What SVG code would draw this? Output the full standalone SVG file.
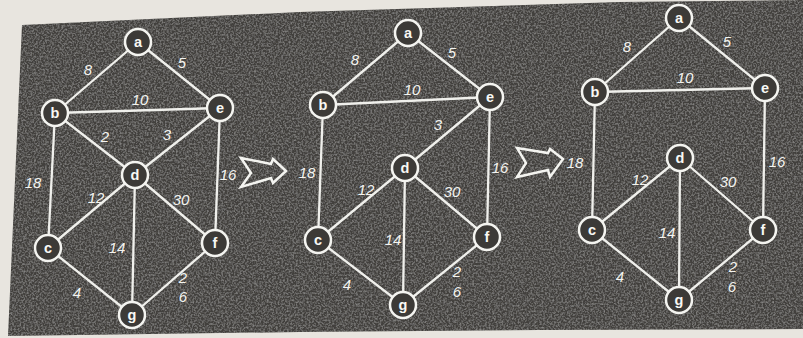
<svg xmlns="http://www.w3.org/2000/svg" width="803" height="338" viewBox="0 0 803 338">
<defs>
<filter id="noise" x="0" y="0" width="100%" height="100%">
<feTurbulence type="fractalNoise" baseFrequency="0.55" numOctaves="2" seed="3" result="t"/>
<feColorMatrix in="t" type="matrix" values="0 0 0 0 0.85  0 0 0 0 0.85  0 0 0 0 0.83  0 0 0 0.5 -0.2" result="n"/>
<feComposite in="n" in2="SourceGraphic" operator="in" result="nc"/>
<feMerge><feMergeNode in="SourceGraphic"/><feMergeNode in="nc"/></feMerge>
</filter>
<style>
.e{stroke:#f0f0ec;stroke-width:2.3;fill:none;stroke-linecap:round}
.n circle{fill:#3c3a37;stroke:#f4f4f0;stroke-width:2.5}
.n text{fill:#f8f8f4;font-family:"Liberation Sans",Arial,sans-serif;font-weight:bold;font-size:14.5px;text-anchor:middle}
.w{fill:#f4f4f0;font-family:"Liberation Sans",Arial,sans-serif;font-style:italic;font-size:15px;text-anchor:middle}
.arr{fill:none;stroke:#f4f4f0;stroke-width:2.5;stroke-linejoin:miter}
</style>
</defs>
<rect width="803" height="338" fill="#e8e5df"/>
<polygon points="22,25 300,12 620,2 803,0 803,329 540,330 300,332 8,336" fill="#42403d" filter="url(#noise)"/>

<g id="connectors">
<!-- panel 1 -->
<line class="e" x1="138" y1="42" x2="55" y2="113"/>
<line class="e" x1="138" y1="42" x2="220" y2="108"/>
<line class="e" x1="55" y1="113" x2="220" y2="108"/>
<line class="e" x1="55" y1="113" x2="135" y2="175"/>
<line class="e" x1="220" y1="108" x2="135" y2="175"/>
<line class="e" x1="55" y1="113" x2="48" y2="248"/>
<line class="e" x1="220" y1="108" x2="215" y2="243"/>
<line class="e" x1="135" y1="175" x2="48" y2="248"/>
<line class="e" x1="135" y1="175" x2="215" y2="243"/>
<line class="e" x1="135" y1="175" x2="132" y2="315"/>
<line class="e" x1="48" y1="248" x2="132" y2="315"/>
<line class="e" x1="215" y1="243" x2="132" y2="315"/>
<!-- panel 2 -->
<line class="e" x1="408" y1="33" x2="323" y2="105"/>
<line class="e" x1="408" y1="33" x2="490" y2="97"/>
<line class="e" x1="323" y1="105" x2="490" y2="97"/>
<line class="e" x1="490" y1="97" x2="405" y2="168"/>
<line class="e" x1="323" y1="105" x2="318" y2="240"/>
<line class="e" x1="490" y1="97" x2="487" y2="237"/>
<line class="e" x1="405" y1="168" x2="318" y2="240"/>
<line class="e" x1="405" y1="168" x2="487" y2="237"/>
<line class="e" x1="405" y1="168" x2="403" y2="305"/>
<line class="e" x1="318" y1="240" x2="403" y2="305"/>
<line class="e" x1="487" y1="237" x2="403" y2="305"/>
<!-- panel 3 -->
<line class="e" x1="679" y1="18" x2="595" y2="92"/>
<line class="e" x1="679" y1="18" x2="765" y2="88"/>
<line class="e" x1="595" y1="92" x2="765" y2="88"/>
<line class="e" x1="595" y1="92" x2="592" y2="230"/>
<line class="e" x1="765" y1="88" x2="763" y2="230"/>
<line class="e" x1="680" y1="158" x2="592" y2="230"/>
<line class="e" x1="680" y1="158" x2="763" y2="230"/>
<line class="e" x1="680" y1="158" x2="679" y2="300"/>
<line class="e" x1="592" y1="230" x2="679" y2="300"/>
<line class="e" x1="763" y1="230" x2="679" y2="300"/>
<!-- transition arrows -->
<polygon class="arr" points="241,158 271,164 273,159 286,171 273,183 271,178 241,187 251,173"/>
<polygon class="arr" points="517,148 548,153 550,149 563,159 550,177 548,170 517,177 526,163"/>
</g>

<g id="weights1">
<text class="w" x="88" y="75">8</text>
<text class="w" x="182" y="68">5</text>
<text class="w" x="140" y="105">10</text>
<text class="w" x="105" y="142">2</text>
<text class="w" x="167" y="140">3</text>
<text class="w" x="33" y="188">18</text>
<text class="w" x="96" y="203">12</text>
<text class="w" x="181" y="205">30</text>
<text class="w" x="228" y="180">16</text>
<text class="w" x="117" y="253">14</text>
<text class="w" x="77" y="298">4</text>
<text class="w" x="183" y="283">2</text>
<text class="w" x="183" y="302">6</text>
</g>
<g id="weights2">
<text class="w" x="355" y="65">8</text>
<text class="w" x="452" y="58">5</text>
<text class="w" x="412" y="95">10</text>
<text class="w" x="438" y="130">3</text>
<text class="w" x="307" y="178">18</text>
<text class="w" x="366" y="195">12</text>
<text class="w" x="452" y="197">30</text>
<text class="w" x="500" y="173">16</text>
<text class="w" x="393" y="245">14</text>
<text class="w" x="347" y="290">4</text>
<text class="w" x="457" y="277">2</text>
<text class="w" x="457" y="297">6</text>
</g>
<g id="weights3">
<text class="w" x="627" y="52">8</text>
<text class="w" x="727" y="47">5</text>
<text class="w" x="685" y="83">10</text>
<text class="w" x="575" y="168">18</text>
<text class="w" x="640" y="185">12</text>
<text class="w" x="728" y="187">30</text>
<text class="w" x="777" y="167">16</text>
<text class="w" x="667" y="238">14</text>
<text class="w" x="620" y="282">4</text>
<text class="w" x="733" y="272">2</text>
<text class="w" x="732" y="292">6</text>
</g>

<g id="a1" class="n"><circle cx="138" cy="42" r="13"/><text x="138" y="47">a</text></g>
<g id="b1" class="n"><circle cx="55" cy="113" r="13"/><text x="55" y="118">b</text></g>
<g id="e1" class="n"><circle cx="220" cy="108" r="13"/><text x="220" y="113">e</text></g>
<g id="d1" class="n"><circle cx="135" cy="175" r="13"/><text x="135" y="180">d</text></g>
<g id="c1" class="n"><circle cx="48" cy="248" r="13"/><text x="48" y="253">c</text></g>
<g id="f1" class="n"><circle cx="215" cy="243" r="13"/><text x="215" y="248">f</text></g>
<g id="g1" class="n"><circle cx="132" cy="315" r="13"/><text x="132" y="320">g</text></g>

<g id="a2" class="n"><circle cx="408" cy="33" r="13"/><text x="408" y="38">a</text></g>
<g id="b2" class="n"><circle cx="323" cy="105" r="13"/><text x="323" y="110">b</text></g>
<g id="e2" class="n"><circle cx="490" cy="97" r="13"/><text x="490" y="102">e</text></g>
<g id="d2" class="n"><circle cx="405" cy="168" r="13"/><text x="405" y="173">d</text></g>
<g id="c2" class="n"><circle cx="318" cy="240" r="13"/><text x="318" y="245">c</text></g>
<g id="f2" class="n"><circle cx="487" cy="237" r="13"/><text x="487" y="242">f</text></g>
<g id="g2" class="n"><circle cx="403" cy="305" r="13"/><text x="403" y="310">g</text></g>

<g id="a3" class="n"><circle cx="679" cy="18" r="13"/><text x="679" y="23">a</text></g>
<g id="b3" class="n"><circle cx="595" cy="92" r="13"/><text x="595" y="97">b</text></g>
<g id="e3" class="n"><circle cx="765" cy="88" r="13"/><text x="765" y="93">e</text></g>
<g id="d3" class="n"><circle cx="680" cy="158" r="13"/><text x="680" y="163">d</text></g>
<g id="c3" class="n"><circle cx="592" cy="230" r="13"/><text x="592" y="235">c</text></g>
<g id="f3" class="n"><circle cx="763" cy="230" r="13"/><text x="763" y="235">f</text></g>
<g id="g3" class="n"><circle cx="679" cy="300" r="13"/><text x="679" y="305">g</text></g>
</svg>
